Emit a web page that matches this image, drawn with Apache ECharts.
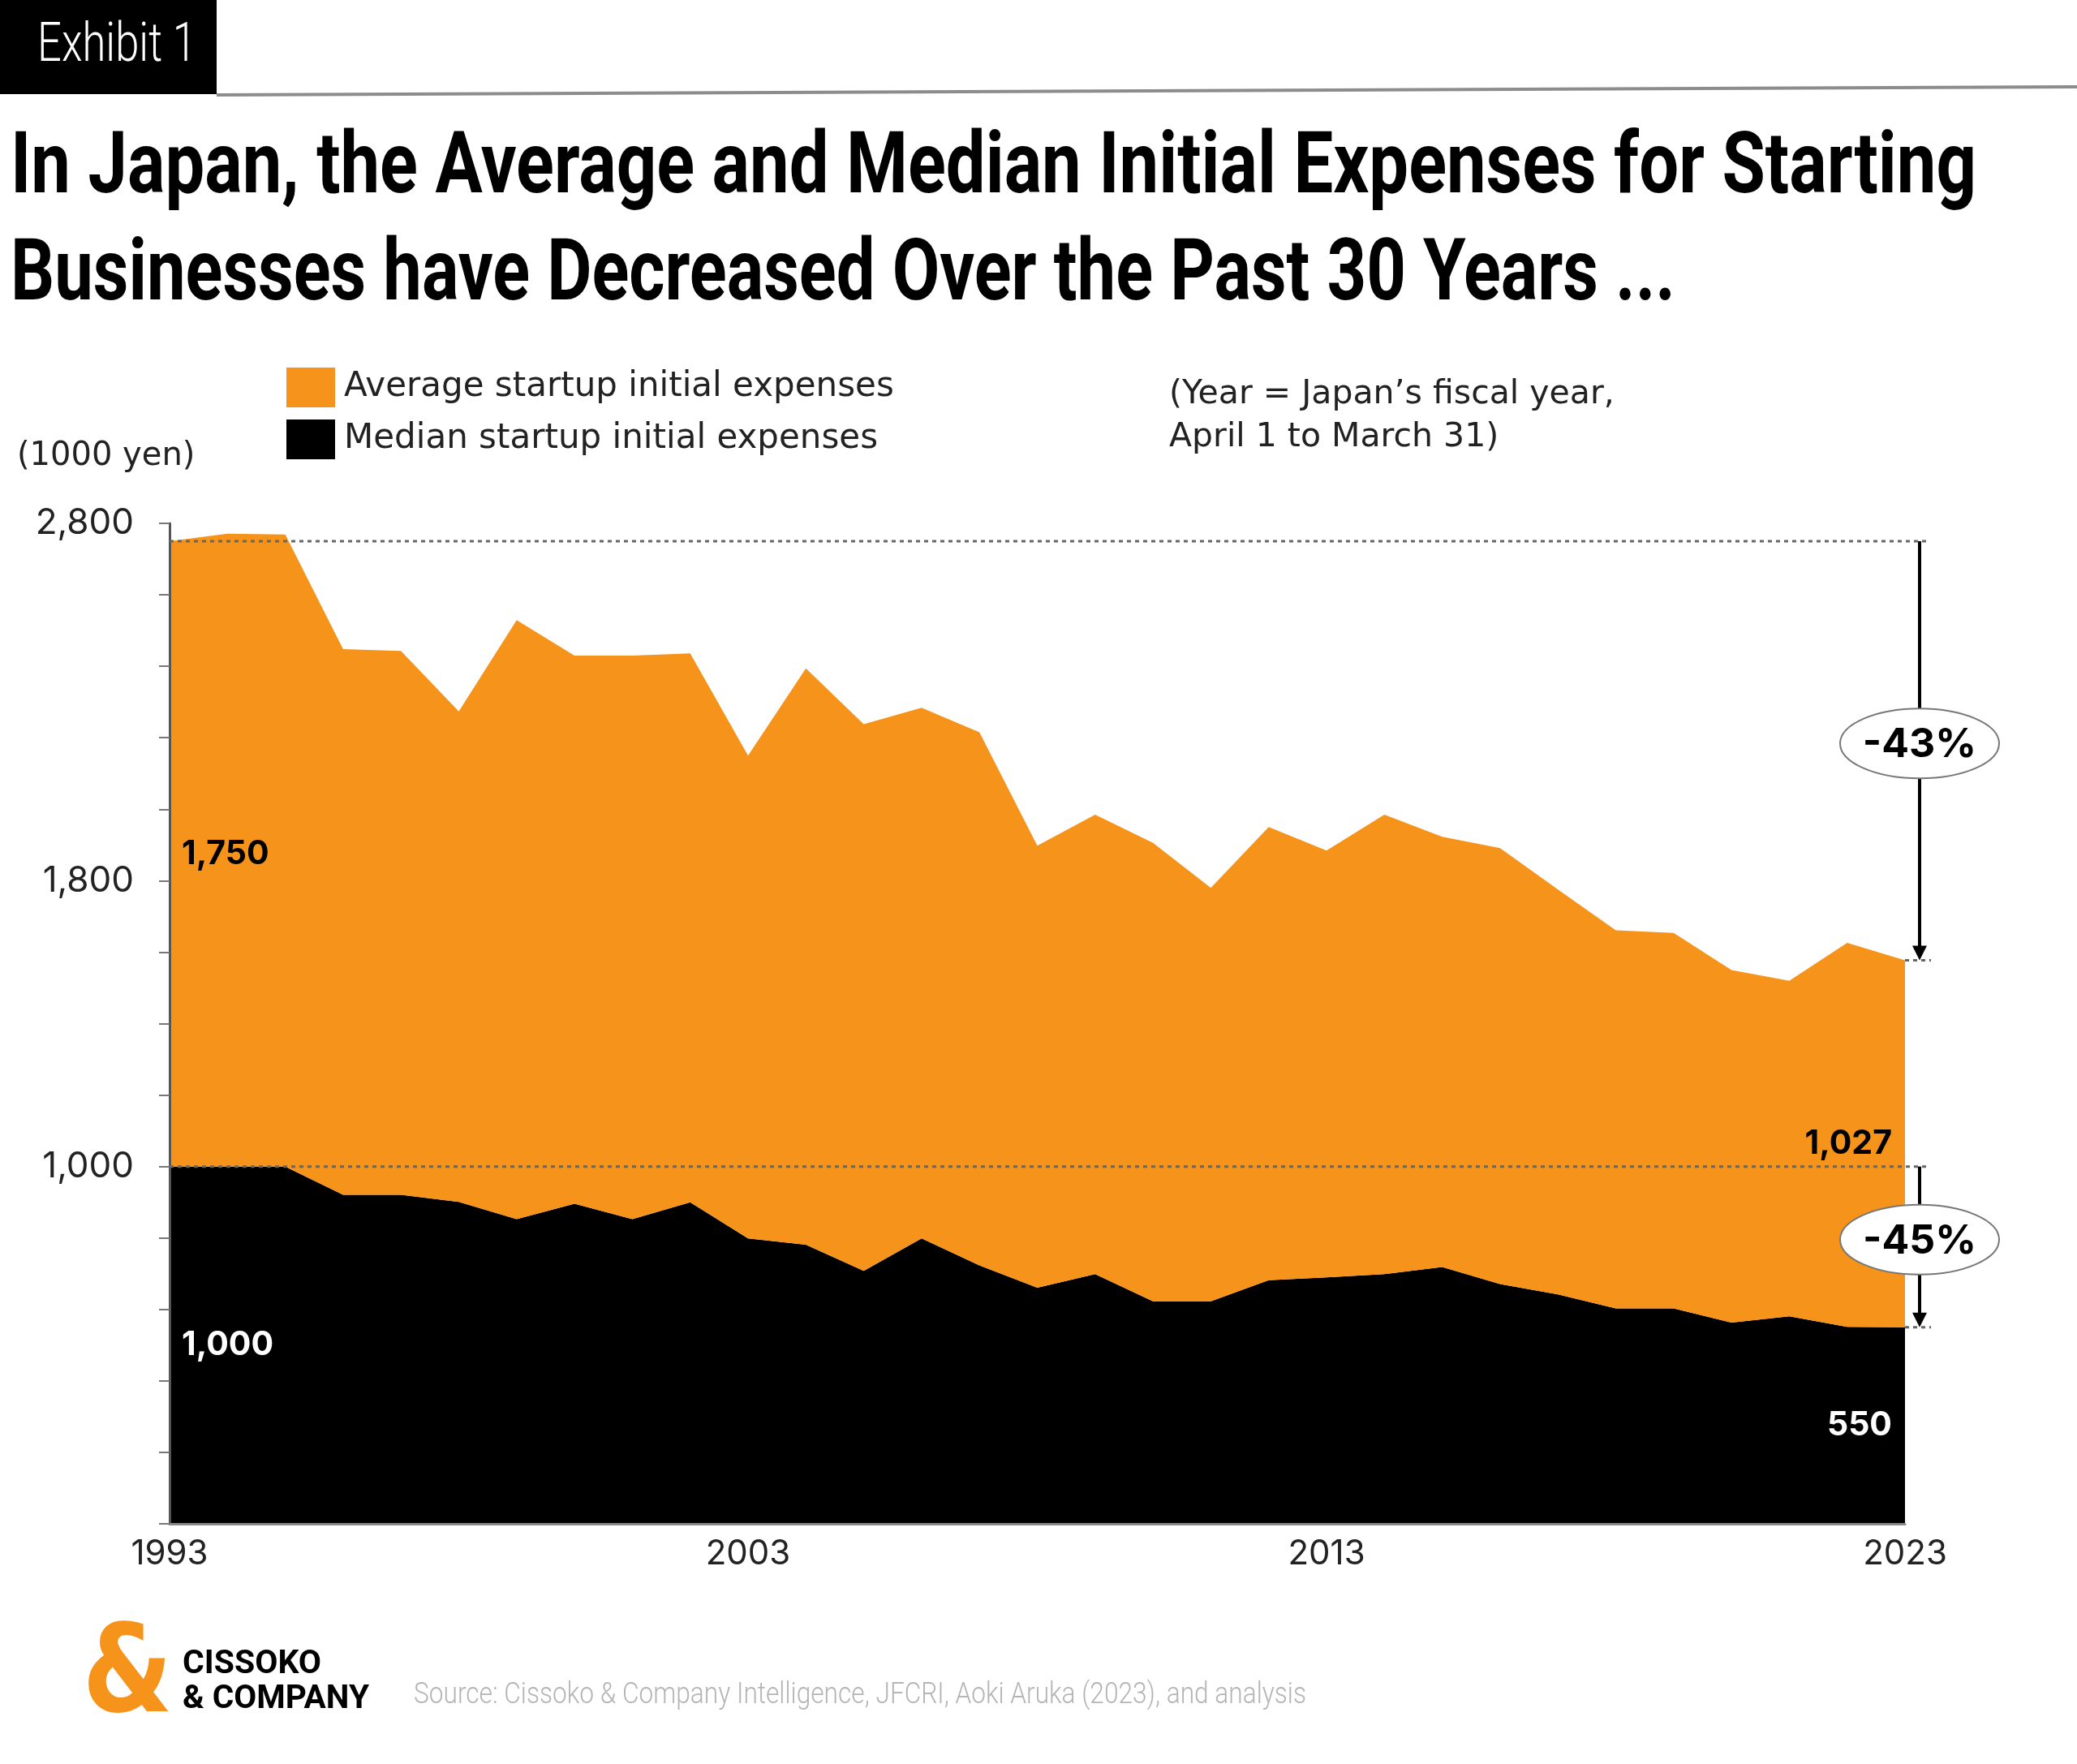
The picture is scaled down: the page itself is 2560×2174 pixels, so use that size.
<!DOCTYPE html>
<html>
<head>
<meta charset="utf-8">
<title>Exhibit 1</title>
<script src="https://cdn.jsdelivr.net/npm/echarts@6.0.0/dist/echarts.min.js"></script>
<style>
  html, body { margin: 0; padding: 0; background: #fff; }
  #main { width: 2560px; height: 2174px; }
</style>
</head>
<body>
<div id="main"></div>
<script>
// fiscal years
var years = ['1993','1994','1995','1996','1997','1998','1999','2000','2001','2002',
             '2003','2004','2005','2006','2007','2008','2009','2010','2011','2012',
             '2013','2014','2015','2016','2017','2018','2019','2020','2021','2022','2023'];
// median startup initial expenses (1000 yen), bottom black area
var medianData = [1000,1000,1000,921,921,901,853,896,853,900,
                  799,781,708,799,723,661,699,623,623,682,
                  690,699,719,671,642,603,603,563,581,551,550];
// average startup initial expenses (1000 yen), orange area stacked on top
var averageData = [1750,1771,1769,1527,1522,1373,1676,1534,1577,1536,
                   1351,1613,1530,1485,1492,1237,1286,1283,1157,1268,
                   1194,1286,1204,1220,1133,1058,1051,987,939,1075,1027];
// y axis values that get a label
var yLabels = [1000, 1800, 2800];
var changeLabels = ['-43%', '-45%'];

var ORANGE = '#F5931A';
var MONT = 'Inter';
var WIDE = 'DejaVu Sans';
var COND = 'Roboto';

var myChart = echarts.init(document.getElementById('main'));

// scale factor so a condensed text takes the wanted width
var measureCtx = document.createElement('canvas').getContext('2d');
function fitScale(text, weight, size, family, width){
    measureCtx.font = weight + ' ' + size + 'px "' + family + '"';
    return width / measureCtx.measureText(text).width;
}
function txt(text, x, y, opt){
    return {
        type: 'text', x: x, y: y, z: 100,
        scaleX: opt.scaleX || 1,
        style: {
            text: text, x: 0, y: 0,
            fill: opt.color || '#000',
            fontSize: opt.size, fontWeight: opt.weight || 'normal', fontFamily: opt.family || MONT,
            lineHeight: opt.lineHeight,
            align: opt.align || 'left', textAlign: opt.align || 'left',
            verticalAlign: opt.valign || 'middle', textVerticalAlign: opt.valign || 'middle'
        }
    };
}

var option = {
    backgroundColor: '#fff',
    animation: false,
    legend: {
        left: 348, top: 448,
        orient: 'vertical',
        icon: 'rect',
        itemWidth: 60, itemHeight: 49, itemGap: 15,
        data: ['Average startup initial expenses', 'Median startup initial expenses'],
        textStyle: { fontFamily: WIDE, fontSize: 42, color: '#222', padding: [0, 0, 0, 6] }
    },
    grid: { left: 209, right: 212, top: 645, bottom: 296 },
    xAxis: {
        type: 'category',
        data: years,
        boundaryGap: false,
        z: 5,
        axisLine: { lineStyle: { color: '#8a8a8a', width: 3 } },
        axisTick: { show: false },
        axisLabel: {
            interval: function(i){ return i % 10 === 0; },
            margin: 16, fontFamily: MONT, fontSize: 42, color: '#222'
        },
        splitLine: { show: false }
    },
    yAxis: {
        type: 'value',
        min: 0, max: 2800, interval: 200,
        z: 5,
        axisLine: { show: true, lineStyle: { color: '#555', width: 3 } },
        axisTick: { show: true, length: 13, lineStyle: { color: '#777', width: 2 } },
        axisLabel: {
            margin: 44, fontFamily: MONT, fontSize: 44, color: '#222',
            formatter: function(v){ return yLabels.indexOf(v) >= 0 ? v.toLocaleString('en-US') : ''; }
        },
        splitLine: { show: false }
    },
    series: [
        {
            name: 'Median startup initial expenses',
            type: 'line', stack: 'total',
            data: medianData,
            symbol: 'none',
            lineStyle: { width: 0 },
            itemStyle: { color: '#000' },
            areaStyle: { color: '#000', opacity: 1 }
        },
        {
            name: 'Average startup initial expenses',
            type: 'line', stack: 'total',
            data: averageData,
            symbol: 'none',
            lineStyle: { width: 0 },
            itemStyle: { color: ORANGE },
            areaStyle: { color: ORANGE, opacity: 1 }
        }
    ]
};
myChart.setOption(option);

/*
 * annotations placed through the chart scales
 */
function px(i, v){ return myChart.convertToPixel({ gridIndex: 0 }, [i, v]); }
var n = years.length;
var x0 = px(0, 0)[0], xN = px(n - 1, 0)[0];
var arrowX = xN + 18, lineEnd = arrowX + 8;
var topStart = medianData[0] + averageData[0];
var topEnd = medianData[n - 1] + averageData[n - 1];

var g = [];
// header
g.push({ type: 'rect', z: 100, shape: { x: 0, y: 0, width: 267, height: 116 }, style: { fill: '#000' } });
g.push({ type: 'line', z: 100, shape: { x1: 267, y1: 117, x2: 2560, y2: 107 }, style: { stroke: '#8c8c8c', lineWidth: 4 } });
g.push(txt('Exhibit 1', 46, 58, { color: '#fff', size: 66, family: COND, weight: 300,
    scaleX: fitScale('Exhibit 1', '300', 66, COND, 196) }));
var title1 = 'In Japan, the Average and Median Initial Expenses for Starting';
var title2 = 'Businesses have Decreased Over the Past 30 Years ...';
g.push(txt(title1, 13, 210, { size: 106, weight: 'bold', family: COND,
    scaleX: fitScale(title1, 'bold', 106, COND, 2423) }));
g.push(txt(title2, 13, 342, { size: 106, weight: 'bold', family: COND,
    scaleX: fitScale(title2, 'bold', 106, COND, 2052) }));
g.push(txt('(1000 yen)', 21, 563, { size: 40, color: '#222', family: WIDE }));
g.push(txt('(Year = Japan\u2019s fiscal year,\nApril 1 to March 31)', 1441, 513, { size: 41, color: '#222', family: WIDE, lineHeight: 53 }));

// dotted reference lines
function dotted(y, xa, xb){
    return { type: 'line', z: 90, shape: { x1: xa, y1: y, x2: xb, y2: y },
             style: { stroke: '#666', lineWidth: 3, lineDash: [5, 5] } };
}
var yTop0 = px(0, topStart)[1], yTopN = px(n - 1, topEnd)[1];
var yMed0 = px(0, medianData[0])[1], yMedN = px(n - 1, medianData[n - 1])[1];
g.push(dotted(yTop0, x0, lineEnd));
g.push(dotted(yMed0, x0, lineEnd));
g.push(dotted(yTopN, xN, lineEnd + 6));
g.push(dotted(yMedN, xN, lineEnd + 6));

// arrows with the change callouts
function arrow(ya, yb, label){
    g.push({ type: 'line', z: 95, shape: { x1: arrowX, y1: ya, x2: arrowX, y2: yb - 14 },
             style: { stroke: '#000', lineWidth: 4 } });
    g.push({ type: 'polygon', z: 95, shape: { points: [[arrowX - 9, yb - 18], [arrowX + 9, yb - 18], [arrowX, yb]] },
             style: { fill: '#000' } });
    var cy = (ya + yb) / 2 - 9;
    g.push({ type: 'ellipse', z: 96, shape: { cx: arrowX, cy: cy, rx: 98, ry: 43 },
             style: { fill: '#fff', stroke: '#777', lineWidth: 2 } });
    g.push(txt(label, arrowX, cy + 2, { size: 50, weight: 'bold', align: 'center' }));
}
arrow(yTop0, yTopN, changeLabels[0]);
arrow(yMed0, yMedN, changeLabels[1]);

// values written inside the bands
g.push(txt(averageData[0].toLocaleString('en-US'), x0 + 15, px(0, medianData[0] + averageData[0] / 2)[1], { size: 41, weight: 'bold' }));
g.push(txt(medianData[0].toLocaleString('en-US'), x0 + 15, px(0, medianData[0] / 2)[1], { size: 41, weight: 'bold', color: '#fff' }));
g.push(txt(averageData[n - 1].toLocaleString('en-US'), xN - 16, px(n - 1, medianData[n - 1] + averageData[n - 1] / 2)[1], { size: 41, weight: 'bold', align: 'right' }));
g.push(txt(medianData[n - 1].toLocaleString('en-US'), xN - 16, px(n - 1, medianData[n - 1] / 2)[1], { size: 41, weight: 'bold', color: '#fff', align: 'right' }));

// footer: logo and source
g.push(txt('&', 157, 2070, { size: 150, weight: 'bold', family: WIDE, color: ORANGE, align: 'center',
    scaleX: 0.85 }));
g.push(txt('CISSOKO', 225, 2052, { size: 40, weight: 'bold', family: COND,
    scaleX: fitScale('CISSOKO', 'bold', 40, COND, 171) }));
g.push(txt('& COMPANY', 225, 2095, { size: 40, weight: 'bold', family: COND,
    scaleX: fitScale('& COMPANY', 'bold', 40, COND, 230) }));
var src = 'Source: Cissoko & Company Intelligence, JFCRI, Aoki Aruka (2023), and analysis';
g.push(txt(src, 510, 2090, { size: 36, family: COND, weight: 300, color: '#b4b4b4',
    scaleX: fitScale(src, '300', 36, COND, 1100) }));

myChart.setOption({ graphic: { elements: g } });
</script>
</body>
</html>
